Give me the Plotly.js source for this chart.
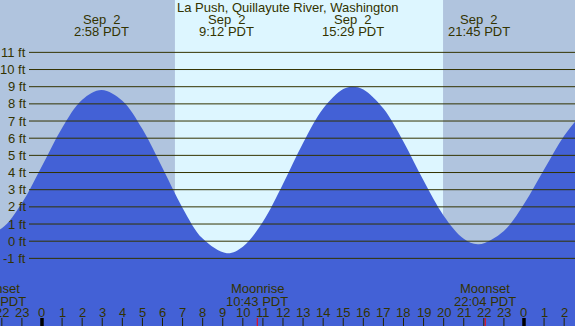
<!DOCTYPE html>
<html><head><meta charset="utf-8">
<script src="https://cdn.plot.ly/plotly-3.0.1.min.js"></script>
<style>html,body{margin:0;padding:0;overflow:hidden;background:#b0c4de}#chart{width:575px;height:326px}</style>
</head><body><div id="chart"></div>
<script>
// ---- data ----
const chartTitle = "La Push, Quillayute River, Washington";
const tideHours = [-3,-2,-1,0,1,2,2.97,4,5,6,7,8,9.2,10,11,12,13,14,15,15.48,16,17,18,19,20,21,21.75,23,24,25,26,27];
const tideFeet  = [0.38,0.75,2.22,4.38,6.60,8.24,8.81,8.18,6.53,4.26,1.94,0.15,-0.70,-0.32,1.13,3.33,5.72,7.73,8.86,9.00,8.84,7.73,5.80,3.53,1.48,0.14,-0.18,0.60,2.16,4.17,6.14,7.60];
const extremeHours = [2.97, 9.2, 15.48, 21.75];
const extremeDates = ["Sep\u00a0\u00a02","Sep\u00a0\u00a02","Sep\u00a0\u00a02","Sep\u00a0\u00a02"];
const extremeTimes = ["2:58 PDT","9:12 PDT","15:29 PDT","21:45 PDT"];
const sunriseHour = 6.62, sunsetHour = 19.97;
const moonHours  = [-2.33, 10.72, 22.07];
const moonEvents = ["Moonset","Moonrise","Moonset"];
const moonTimes  = ["21:40 PDT","10:43 PDT","22:04 PDT"];
const levelFeet  = [-1,0,1,2,3,4,5,6,7,8,9,10,11];
const levelLabels = ["-1 ft","0 ft","1 ft","2 ft","3 ft","4 ft","5 ft","6 ft","7 ft","8 ft","9 ft","10 ft","11 ft"];
const hourTicks = [-2,-1,0,1,2,3,4,5,6,7,8,9,10,11,12,13,14,15,16,17,18,19,20,21,22,23,24,25,26];
const hourLabels = hourTicks.map(h => String((h % 24 + 24) % 24));

// ---- styling / layout ----
const W = 575, H = 326;
const X0 = -2.091, X1 = 26.54, Y0 = -4.94, Y1 = 14.05;
const NIGHT = "#b0c4de", DAY = "#ddf6ff", WATER = "#4361d6", INK = "#333300";
const FONT = "Liberation Sans, Arial, sans-serif";
const xFrac = h => (h - X0) / (X1 - X0);
const yFrac = px => 1 - px / H;

const traces = [];
traces.push({x: tideHours, y: tideHours.map(() => Y0 - 5), mode: "lines", line: {width: 0}, hoverinfo: "skip"});
traces.push({x: tideHours, y: tideFeet, mode: "lines", fill: "tonexty", fillcolor: WATER,
  line: {width: 0, shape: "spline", smoothing: 1, color: WATER}, hoverinfo: "skip"});

const shapes = [];
shapes.push({type: "rect", xref: "x", yref: "paper", x0: sunriseHour, x1: sunsetHour, y0: 0, y1: 1,
  fillcolor: DAY, line: {width: 0}, layer: "below"});
levelFeet.forEach(v => shapes.push({type: "line", xref: "paper", yref: "y", x0: 29 / W, x1: 1, y0: v, y1: v,
  line: {color: INK, width: 1}, layer: "above"}));
hourTicks.forEach(h => {
  const mid = (h % 24 === 0);
  shapes.push({type: "line", xref: "x", yref: "paper", x0: h, x1: h, y0: 0, y1: 8 / H,
    line: {color: mid ? "#000000" : "#222200", width: mid ? 3.5 : 1}, layer: "above"});
});
moonHours.forEach(h => shapes.push({type: "line", xref: "x", yref: "paper", x0: h, x1: h, y0: 0, y1: 8 / H,
  line: {color: "#ff0000", width: 1}, layer: "above"}));

const annotations = [];
const note = (x, y, text, xanchor, xref, yref) => annotations.push({xref: xref || "paper", yref: yref || "paper",
  x, y, text, showarrow: false, xanchor: xanchor || "center", yanchor: "middle", borderpad: 0,
  font: {family: FONT, size: 13, color: INK}});
note(0.5, yFrac(7.5), chartTitle);
extremeHours.forEach((h, i) => { note(xFrac(h), yFrac(19), extremeDates[i]); note(xFrac(h), yFrac(31.5), extremeTimes[i]); });
moonHours.forEach((h, i) => { note(xFrac(h), yFrac(288), moonEvents[i]); note(xFrac(h), yFrac(301), moonTimes[i]); });
hourTicks.forEach((h, i) => note(xFrac(h), yFrac(312), hourLabels[i]));
levelFeet.forEach((v, i) => note(27 / W, v, levelLabels[i], "right", "paper", "y"));

const layout = {
  width: W, height: H, margin: {l: 0, r: 0, t: 0, b: 0, pad: 0}, showlegend: false,
  paper_bgcolor: NIGHT, plot_bgcolor: NIGHT,
  xaxis: {range: [X0, X1], visible: false, fixedrange: true},
  yaxis: {range: [Y0, Y1], visible: false, fixedrange: true},
  shapes, annotations
};
Plotly.newPlot("chart", traces, layout, {staticPlot: true, displayModeBar: false});
</script></body></html>
